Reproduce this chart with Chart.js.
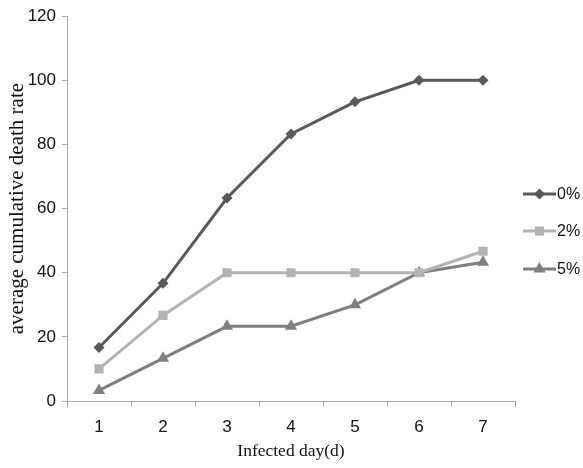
<!DOCTYPE html>
<html>
<head>
<meta charset="utf-8">
<script src="https://cdn.jsdelivr.net/npm/chart.js@4/dist/chart.umd.min.js"></script>
<style>
  html, body { margin: 0; padding: 0; background: #fff; }
</style>
</head>
<body>
<canvas id="chart" width="583" height="468"></canvas>
<script>
const days = ["1", "2", "3", "4", "5", "6", "7"];
const rate0 = [16.7, 36.7, 63.3, 83.3, 93.3, 100, 100];
const rate2 = [10, 26.7, 40, 40, 40, 40, 46.7];
const rate5 = [3.3, 13.3, 23.3, 23.3, 30, 40, 43.3];
const seriesNames = ["0%", "2%", "5%"];

const colors = ["#595959", "#b3b3b3", "#7f7f7f"];
const markers = ["rectRot", "rect", "triangle"];
const radii = [5.5, 6.5, 7];
const tickFont = "'Liberation Sans Narrow', 'Liberation Sans', sans-serif";

function makeSet(i, values) {
    return {
        label: seriesNames[i],
        data: values,
        borderColor: colors[i],
        backgroundColor: colors[i],
        borderWidth: 3,
        pointStyle: markers[i],
        pointRadius: radii[i],
        pointBorderWidth: 0,
        tension: 0
    };
}

// Excel style legend: short line with the marker on it
const sideLegend = {
    id: "sideLegend",
    afterDraw(chart) {
        const ctx = chart.ctx;
        const ys = [194, 231, 269];
        chart.data.datasets.forEach((ds, i) => {
            const y = ys[i];
            ctx.save();
            ctx.strokeStyle = ds.borderColor;
            ctx.lineWidth = 3;
            ctx.beginPath();
            ctx.moveTo(523, y);
            ctx.lineTo(556, y);
            ctx.stroke();
            ctx.fillStyle = ds.backgroundColor;
            Chart.helpers.drawPoint(ctx, {
                pointStyle: ds.pointStyle,
                radius: ds.pointRadius,
                borderWidth: 0
            }, 539.5, y);
            ctx.fillStyle = "#111";
            ctx.font = "16px " + tickFont;
            ctx.textBaseline = "middle";
            ctx.fillText(ds.label, 557, y + 1);
            ctx.restore();
        });
    }
};

new Chart(document.getElementById("chart"), {
    type: "line",
    data: {
        labels: days,
        datasets: [makeSet(0, rate0), makeSet(1, rate2), makeSet(2, rate5)]
    },
    options: {
        responsive: false,
        animation: false,
        layout: { padding: { top: 0, right: 68, bottom: 0, left: 0 } },
        plugins: {
            legend: { display: false },
            tooltip: { enabled: false }
        },
        scales: {
            x: {
                offset: true,
                afterFit: s => { s.height = 67; },
                grid: {
                    offset: true,
                    drawOnChartArea: false,
                    tickLength: 6,
                    color: "#aaa"
                },
                border: { color: "#aaa", width: 1 },
                ticks: {
                    color: "#111",
                    padding: 10,
                    font: { family: tickFont, size: 17 }
                },
                title: {
                    display: true,
                    text: "Infected day(d)",
                    color: "#111",
                    padding: { top: 0, bottom: 6 },
                    font: { family: "'Liberation Serif', serif", size: 17.5 }
                }
            },
            y: {
                min: 0,
                max: 120,
                afterFit: s => { s.width = 67; },
                grid: {
                    drawOnChartArea: false,
                    tickLength: 5,
                    color: "#aaa"
                },
                border: { color: "#aaa", width: 1 },
                ticks: {
                    stepSize: 20,
                    color: "#111",
                    padding: 6,
                    font: { family: tickFont, size: 17 }
                },
                title: {
                    display: true,
                    text: "average cumulative death rate",
                    color: "#111",
                    padding: { top: 5, bottom: 4 },
                    font: { family: "'Liberation Serif', serif", size: 21 }
                }
            }
        }
    },
    plugins: [sideLegend]
});
</script>
</body>
</html>
